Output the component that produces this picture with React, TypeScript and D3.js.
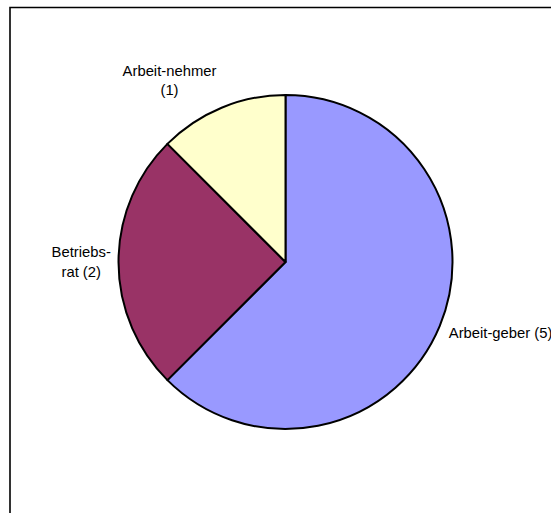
import React from "react";
import * as d3 from "d3";

const categories = ["Arbeit-geber", "Betriebs-rat", "Arbeit-nehmer"];
const values = [5, 2, 1];
const labelLines = [["Arbeit-geber (5)"], ["Betriebs-", "rat (2)"], ["Arbeit-nehmer", "(1)"]];
const colors = ["#9999FF", "#993366", "#FFFFCC"];

const W = 551;
const H = 513;
const cx = 285.5;
const cy = 262;
const R = 167;
const fontSize = 14.8;
const lineH = 19.5;

export default function App() {
  const data = categories.map((c, i) => ({ c, v: values[i], i }));
  const pie = d3.pie<any>().value((d) => d.v).sort(null);
  const arcs = pie(data);
  const arc = d3.arc<any>().innerRadius(0).outerRadius(R);

  const measure = (s: string) => s.length * fontSize * 0.5;

  return (
    <svg
      width={W}
      height={H}
      style={{ position: "fixed", left: 0, top: 0, background: "#fff" }}
      fontFamily="'Liberation Sans', Arial, Helvetica, sans-serif"
    >
      <rect x={0} y={0} width={W} height={H} fill="#fff" />
      <path d={`M10,${H + 2} V7.5 H${W + 2}`} fill="none" stroke="#000" strokeWidth={1.6} />
      <g transform={`translate(${cx},${cy})`}>
        {arcs.map((a, k) => (
          <path key={k} d={arc(a) as string} fill={colors[a.data.i]} stroke="#000" strokeWidth={2} strokeLinejoin="round" />
        ))}
        {arcs.map((a, k) => {
          const mid = (a.startAngle + a.endAngle) / 2;
          const s = Math.sin(mid);
          const c = Math.cos(mid);
          const px = R * s;
          const py = -R * c;
          const lines = labelLines[a.data.i];
          const h = lines.length * lineH;
          const w = Math.max(...lines.map(measure));
          const single = lines.length === 1;
          let anchor: "start" | "middle" | "end" = "middle";
          let x: number;
          if (s >= 0) {
            x = px + 9;
            anchor = "start";
          } else {
            x = px - 4 - w / 2;
            anchor = "middle";
          }
          if (single) anchor = s >= 0 ? "start" : "end";
          const yc = py - c * (h / 2 + 10);
          const y0 = yc - h / 2 + lineH / 2;
          return (
            <text key={"l" + k} fontSize={fontSize} fill="#000" textAnchor={anchor} dominantBaseline="central">
              {lines.map((ln, j) => (
                <tspan key={j} x={x} y={y0 + j * lineH}>
                  {ln}
                </tspan>
              ))}
            </text>
          );
        })}
      </g>
    </svg>
  );
}
